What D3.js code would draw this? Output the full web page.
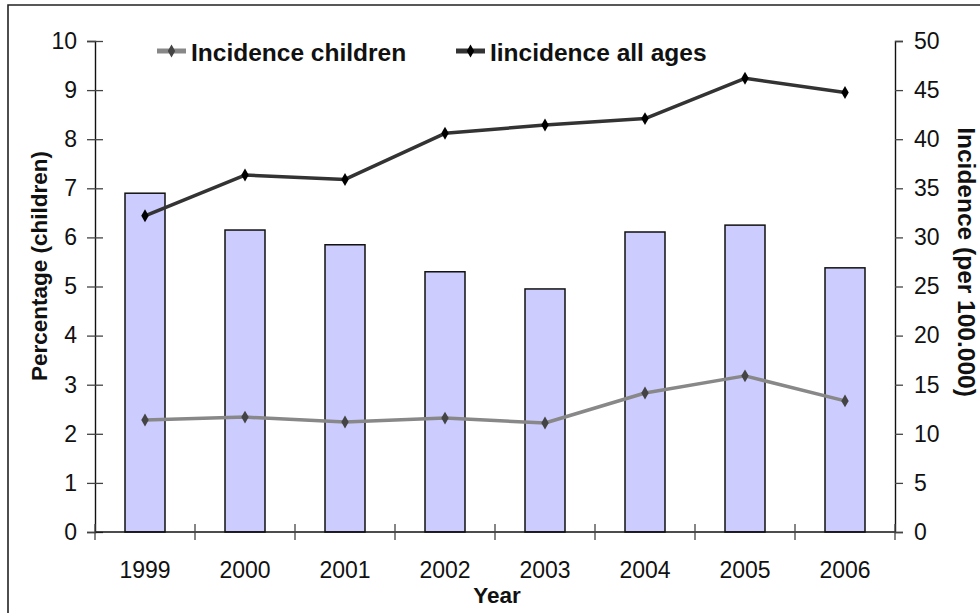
<!DOCTYPE html>
<html>
<head>
<meta charset="utf-8">
<script src="https://cdn.jsdelivr.net/npm/d3@7"></script>
<style>
  html, body { margin: 0; padding: 0; background: #fff; }
  svg { display: block; font-family: "Liberation Sans", Arial, sans-serif; }
</style>
</head>
<body>
<svg id="chart" width="980" height="613"></svg>
<script>
// Yearly data
const years = ["1999", "2000", "2001", "2002", "2003", "2004", "2005", "2006"];
const percentageChildren = [6.9, 6.15, 5.85, 5.3, 4.95, 6.11, 6.25, 5.38];
const incidenceChildren = [11.4, 11.7, 11.2, 11.6, 11.1, 14.15, 15.9, 13.35];
const incidenceAllAges = [32.2, 36.35, 35.9, 40.6, 41.45, 42.1, 46.2, 44.75];
const leftTicks = [0, 1, 2, 3, 4, 5, 6, 7, 8, 9, 10];
const rightTicks = [0, 5, 10, 15, 20, 25, 30, 35, 40, 45, 50];

const svg = d3.select("#chart");
const plotLeft = 95, plotRight = 895, plotTop = 41, plotBottom = 532;

const x = d3.scaleBand().domain(years).range([plotLeft, plotRight])
  .paddingInner(0.6).paddingOuter(0.3);
const yL = d3.scaleLinear().domain([0, 10]).range([plotBottom, plotTop]);
const yR = d3.scaleLinear().domain([0, 50]).range([plotBottom, plotTop]);
const gap = (x.step() - x.bandwidth()) / 2;

// outer frame
svg.append("path")
  .attr("d", "M8,613V5H980")
  .attr("fill", "none").attr("stroke", "#222").attr("stroke-width", 1.6);

// bars (left axis)
svg.append("g").selectAll("rect")
  .data(years)
  .join("rect")
  .attr("x", d => x(d))
  .attr("width", x.bandwidth())
  .attr("y", (d, i) => yL(percentageChildren[i]))
  .attr("height", (d, i) => yL(0) - yL(percentageChildren[i]))
  .attr("fill", "#ccccff")
  .attr("stroke", "#111")
  .attr("stroke-width", 1.5);

// left axis
const gL = svg.append("g").attr("transform", `translate(${plotLeft},0)`)
  .call(d3.axisLeft(yL).tickValues(leftTicks).tickSize(8).tickPadding(10).tickFormat(d3.format("d")));
gL.select(".domain").attr("stroke", "#111").attr("stroke-width", 1.4);
gL.selectAll(".tick line").attr("x1", 8).attr("x2", -8).attr("stroke", "#444").attr("stroke-width", 1.3);
gL.selectAll(".tick text").attr("font-size", 23).attr("fill", "#111").attr("font-family", "Liberation Sans, Arial, sans-serif");

// right axis
const gR = svg.append("g").attr("transform", `translate(${plotRight},0)`)
  .call(d3.axisRight(yR).tickValues(rightTicks).tickSize(8).tickPadding(11).tickFormat(d3.format("d")));
gR.select(".domain").attr("stroke", "#111").attr("stroke-width", 1.4);
gR.selectAll(".tick line").attr("stroke", "#444").attr("stroke-width", 1.3);
gR.selectAll(".tick text").attr("font-size", 23).attr("fill", "#111").attr("font-family", "Liberation Sans, Arial, sans-serif");

// bottom axis: labels at band centres, ticks at band boundaries
const gX = svg.append("g").attr("transform", `translate(0,${plotBottom})`)
  .call(d3.axisBottom(x).tickSize(0).tickPadding(30));
gX.select(".domain").remove();
gX.selectAll(".tick text").attr("font-size", 23).attr("fill", "#111").attr("font-family", "Liberation Sans, Arial, sans-serif");
svg.append("line")
  .attr("x1", plotLeft).attr("x2", plotRight).attr("y1", plotBottom).attr("y2", plotBottom)
  .attr("stroke", "#111").attr("stroke-width", 1.4);
const bounds = years.map(d => x(d) - gap).concat([x(years[years.length - 1]) + x.bandwidth() + gap]);
svg.append("g").selectAll("line")
  .data(bounds)
  .join("line")
  .attr("x1", d => d).attr("x2", d => d)
  .attr("y1", plotBottom - 8).attr("y2", plotBottom + 8)
  .attr("stroke", "#444").attr("stroke-width", 1.3);

// lines (right axis)
const cx = d => x(d) + x.bandwidth() / 2;
const diamond = d3.symbol().type(d3.symbolDiamond).size(48);

function drawSeries(values, lineColor, markerColor) {
  const line = d3.line().x((d, i) => cx(years[i])).y(d => yR(d));
  svg.append("path")
    .datum(values)
    .attr("d", line)
    .attr("fill", "none")
    .attr("stroke", lineColor)
    .attr("stroke-width", 3.5)
    .attr("stroke-linejoin", "round");
  svg.append("g").selectAll("path")
    .data(values)
    .join("path")
    .attr("d", diamond)
    .attr("transform", (d, i) => `translate(${cx(years[i])},${yR(d)})`)
    .attr("fill", markerColor);
}
drawSeries(incidenceChildren, "#888888", "#444");
drawSeries(incidenceAllAges, "#333333", "#000");

// legend
const legend = [
  { label: "Incidence children", color: "#888888", marker: "#444", x: 157 },
  { label: "Iincidence all ages", color: "#333333", marker: "#000", x: 456 }
];
const lg = svg.append("g").selectAll("g").data(legend).join("g")
  .attr("transform", d => `translate(${d.x},51)`);
lg.append("line").attr("x1", 0).attr("x2", 29).attr("y1", 0).attr("y2", 0)
  .attr("stroke", d => d.color).attr("stroke-width", 5);
lg.append("path").attr("d", diamond).attr("transform", "translate(14.5,0)").attr("fill", d => d.marker);
lg.append("text").attr("x", 34).attr("y", 9.5)
  .attr("font-size", 24.5).attr("font-weight", "bold").attr("fill", "#111")
  .text(d => d.label);

// axis titles
svg.append("text")
  .attr("transform", "translate(47,266) rotate(-90)")
  .attr("text-anchor", "middle").attr("font-size", 22.5).attr("font-weight", "bold").attr("fill", "#111")
  .text("Percentage (children)");
svg.append("text")
  .attr("transform", "translate(958,262) rotate(90)")
  .attr("text-anchor", "middle").attr("font-size", 24.5).attr("font-weight", "bold").attr("fill", "#111")
  .text("Incidence (per 100.000)");
svg.append("text")
  .attr("x", 497).attr("y", 603)
  .attr("text-anchor", "middle").attr("font-size", 22.5).attr("font-weight", "bold").attr("fill", "#111")
  .text("Year");
</script>
</body>
</html>
